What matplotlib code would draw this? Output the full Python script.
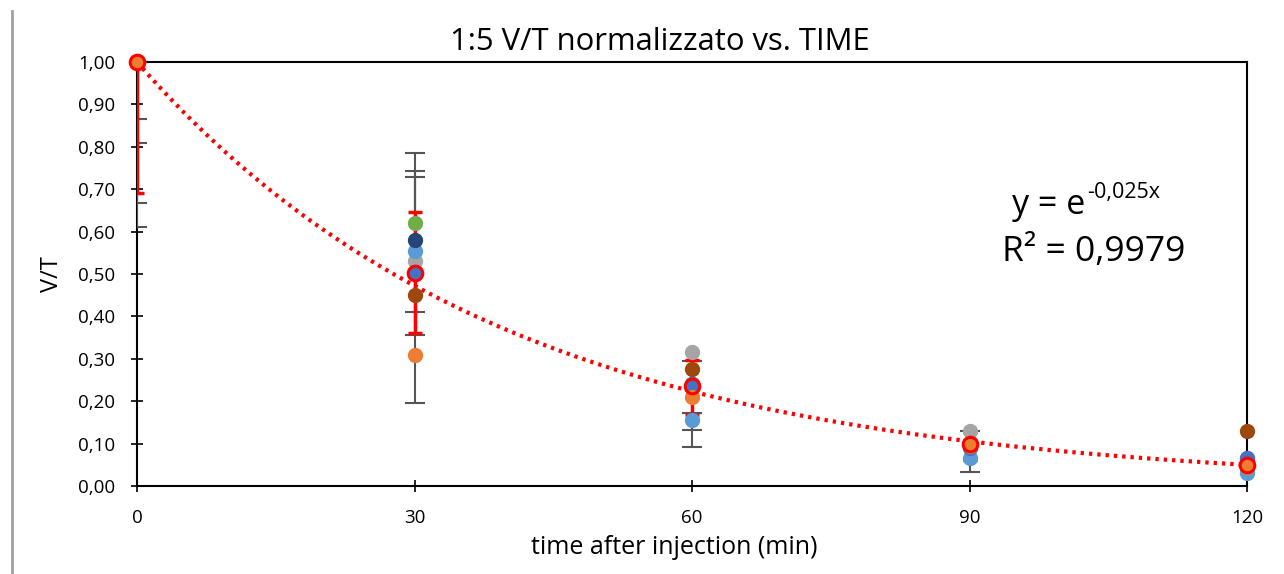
import numpy as np
import matplotlib
matplotlib.use("Agg")
import matplotlib.pyplot as plt
from matplotlib.ticker import FuncFormatter
from matplotlib.lines import Line2D

plt.rcParams['font.family'] = ['Open Sans', 'DejaVu Sans']

# time points (min)
times = [0, 30, 60, 90, 120]

# individual series
s_grey = [1.0, 0.530, 0.315, 0.130, 0.065]
s_brown = [1.0, 0.450, 0.275, 0.100, 0.130]
s_lightblue = [1.0, 0.555, 0.155, 0.065, 0.030]
s_green = [1.0, 0.620, 0.240, 0.100, 0.060]
s_darkblue = [1.0, 0.580, 0.240, 0.100, 0.060]
s_blue = [1.0, 0.505, 0.240, 0.090, 0.065]
s_orange = [1.0, 0.310, 0.210, 0.095, 0.045]

mean_vt = [1.0, 0.503, 0.235, 0.100, 0.050]
mean_lo = [0.690, 0.360, 0.167, 0.061, 0.040]
mean_hi = [1.000, 0.646, 0.297, 0.127, 0.065]

# grey whiskers (x, low, high)
grey_x = [0, 0, 0, 0, 30, 30, 30, 60, 60, 90]
grey_lo = [0.866, 0.809, 0.667, 0.611, 0.196, 0.356, 0.410, 0.092, 0.132, 0.033]
grey_hi = [1.000, 1.000, 1.000, 1.000, 0.785, 0.743, 0.729, 0.295, 0.172, 0.130]

fit_k = -0.025
fit_exp_label = "-0,025x"
r2_text = "R² = 0,9979"

fig = plt.figure(figsize=(12.84, 5.74), dpi=100)
ax = fig.add_axes([0.1067, 0.1533, 0.8645, 0.7387])

# trendline
xt = np.linspace(0, 120, 300)
ax.plot(xt, np.exp(fit_k * xt), color='#ff0000', lw=3, ls=(0, (0.8, 1.2)),
        zorder=2)

# grey error bars
gx = np.array(grey_x, dtype=float)
glo = np.array(grey_lo)
ghi = np.array(grey_hi)
gmid = (glo + ghi) / 2
ax.errorbar(gx, gmid, yerr=[gmid - glo, ghi - gmid], fmt='none',
            ecolor='#555555', elinewidth=1.5, capsize=7, capthick=1.5,
            zorder=3)

# red error bars of the mean
m = np.array(mean_vt)
ax.errorbar(times, m, yerr=[m - np.array(mean_lo), np.array(mean_hi) - m],
            fmt='none', ecolor='#ff0000', elinewidth=2.5, capsize=5,
            capthick=2.5, zorder=4)

series = [
    (s_grey, '#A5A5A5'),
    (s_brown, '#9E480E'),
    (s_lightblue, '#5B9BD5'),
    (s_green, '#70AD47'),
    (s_darkblue, '#264478'),
    (s_blue, '#4472C4'),
    (s_orange, '#ED7D31'),
]
for i, (vals, col) in enumerate(series):
    ax.plot(times, vals, ls='none', marker='o', ms=10, mfc=col, mec=col,
            zorder=5 + i * 0.1, clip_on=False)

ax.plot(times, mean_vt, ls='none', marker='o', ms=10.5, mfc='none',
        mec='#ff0000', mew=2.2, zorder=7, clip_on=False)

ax.set_xlim(0, 120)
ax.set_ylim(0, 1.0)
ax.set_xticks(times)
ax.set_yticks(np.arange(0, 1.01, 0.1))
ax.yaxis.set_major_formatter(FuncFormatter(lambda v, p: f"{v:.2f}".replace('.', ',')))
ax.tick_params(axis='both', direction='inout', length=9, width=1.2,
               labelsize=13.5, colors='black')
ax.tick_params(axis='y', pad=11)
ax.tick_params(axis='x', pad=12)
for sp in ax.spines.values():
    sp.set_color('black')
    sp.set_linewidth(1.5)

fig.text(660 / 1284, 1 - 42 / 574, "1:5 V/T normalizzato vs. TIME",
         fontsize=22.3, ha='center', va='center')
fig.text(674 / 1284, 1 - 547 / 574, "time after injection (min)",
         fontsize=18, ha='center', va='center')
ax.set_ylabel("V/T", fontsize=17, labelpad=10)

# trendline equation
eq_x = 1085 / 1284
eq_y = 1 - 205 / 574
fig.text(eq_x, eq_y, "y = e", fontsize=24.5, ha='right', va='center')
fig.text(eq_x + 0.002, eq_y + 0.022, fit_exp_label, fontsize=15.5,
         ha='left', va='center')
fig.text(1094 / 1284, 1 - 252 / 574, r2_text, fontsize=25.5,
         ha='center', va='center')

fig.add_artist(Line2D([0.0093, 0.0093], [0.0, 0.98], color='#a0a0a0',
                      lw=2, transform=fig.transFigure))

fig.savefig("out.png", dpi=100)
